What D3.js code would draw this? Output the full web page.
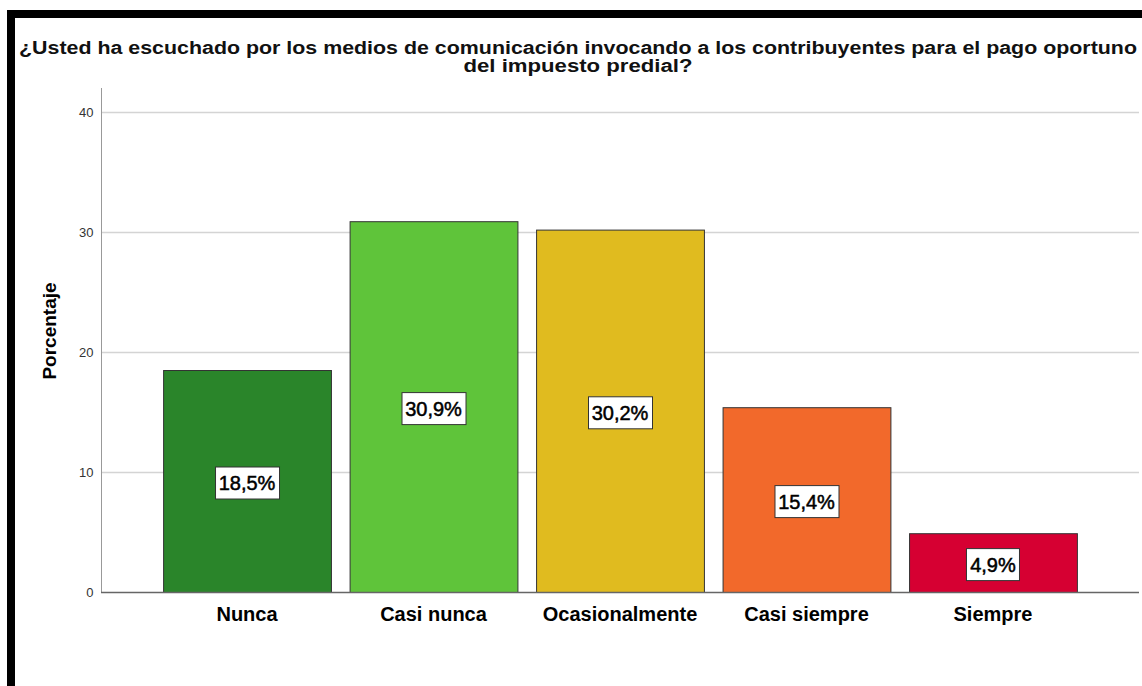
<!DOCTYPE html>
<html lang="es">
<head>
<meta charset="utf-8">
<script src="https://d3js.org/d3.v7.min.js"></script>
<style>
  body { margin: 0; background: #fff; }
  svg { display: block; font-family: "Liberation Sans", Arial, sans-serif; }
</style>
</head>
<body>
<script>
// data
const categories = ["Nunca", "Casi nunca", "Ocasionalmente", "Casi siempre", "Siempre"];
const values = [18.5, 30.9, 30.2, 15.4, 4.9];
const labels = ["18,5%", "30,9%", "30,2%", "15,4%", "4,9%"];
const colors = ["#2a852a", "#5fc43a", "#e0bb1f", "#f2692b", "#d60032"];
const yTicks = [0, 10, 20, 30, 40];
const titleLines = ["¿Usted ha escuchado por los medios de comunicación invocando a los contribuyentes para el pago oportuno",
                    "del impuesto predial?"];

const W = 1142, H = 686;
const svg = d3.select("body").append("svg").attr("width", W).attr("height", H);

// black frame (top & left edges)
svg.append("rect").attr("x", 7).attr("y", 10).attr("width", W - 7).attr("height", 8).attr("fill", "#000");
svg.append("rect").attr("x", 7).attr("y", 10).attr("width", 8).attr("height", H - 10).attr("fill", "#000");

// title
const titleW = [1118, 229];
svg.selectAll(".title").data(titleLines).enter().append("text")
  .attr("class", "title")
  .attr("x", 578).attr("y", (d, i) => 54 + i * 18)
  .attr("text-anchor", "middle")
  .attr("font-size", 18).attr("font-weight", "bold")
  .attr("textLength", (d, i) => titleW[i]).attr("lengthAdjust", "spacingAndGlyphs")
  .attr("fill", "#111")
  .text(d => d);

// scales
const x = d3.scaleBand().domain(categories).range([101, 1139]).paddingInner(0.1).paddingOuter(0.333);
const y = d3.scaleLinear().domain([0, 40]).range([592, 112]);

// grid
svg.append("g").selectAll("line").data(yTicks.filter(d => d > 0)).enter().append("line")
  .attr("x1", 101).attr("x2", 1139)
  .attr("y1", d => y(d) + 0.5).attr("y2", d => y(d) + 0.5)
  .attr("stroke", "#d4d4d4").attr("stroke-width", 1.5);

// y axis
const yAxis = svg.append("g").attr("transform", "translate(101.5,0)")
  .call(d3.axisLeft(y).tickValues(yTicks).tickSize(0).tickPadding(8));
yAxis.select(".domain").attr("d", "M0,88V592").attr("stroke", "#999");
yAxis.selectAll("text").attr("font-size", 13).attr("fill", "#333").attr("font-family", "Liberation Sans, Arial, sans-serif");

svg.append("text")
  .attr("transform", "translate(56,331) rotate(-90)")
  .attr("text-anchor", "middle")
  .attr("font-size", 19).attr("font-weight", "bold")
  .text("Porcentaje");

// bars
svg.append("g").selectAll("rect").data(values).enter().append("rect")
  .attr("x", (d, i) => x(categories[i]) + 0.5)
  .attr("y", d => y(d) + 0.5)
  .attr("width", x.bandwidth())
  .attr("height", d => y(0) - y(d))
  .attr("fill", (d, i) => colors[i])
  .attr("stroke", "#333").attr("stroke-width", 1);

// x axis
const xAxis = svg.append("g").attr("transform", "translate(0,592.5)")
  .call(d3.axisBottom(x).tickSize(0).tickPadding(14));
xAxis.select(".domain").attr("d", "M101,0H1139").attr("stroke", "#666").attr("stroke-width", 1.5);
xAxis.selectAll("text").attr("font-size", 20).attr("font-weight", "bold").attr("fill", "#000")
  .attr("font-family", "Liberation Sans, Arial, sans-serif");

// value labels
const lab = svg.append("g").selectAll("g").data(values).enter().append("g")
  .attr("transform", (d, i) => "translate(" + (x(categories[i]) + x.bandwidth() / 2) + "," + (y(d / 2) + 2) + ")");
lab.append("rect")
  .attr("y", -16).attr("height", 32)
  .attr("fill", "#fff").attr("stroke", "#333").attr("stroke-width", 1);
lab.append("text")
  .attr("text-anchor", "middle").attr("dy", "0.36em")
  .attr("font-size", 20)
  .attr("fill", "#000").attr("stroke", "#000").attr("stroke-width", 0.5)
  .text((d, i) => labels[i]);
// fit boxes to the text
lab.each(function () {
  const t = d3.select(this).select("text").node().getBBox();
  d3.select(this).select("rect")
    .attr("x", Math.round(t.x) - 3.5).attr("width", Math.round(t.width) + 7);
});
</script>
</body>
</html>
